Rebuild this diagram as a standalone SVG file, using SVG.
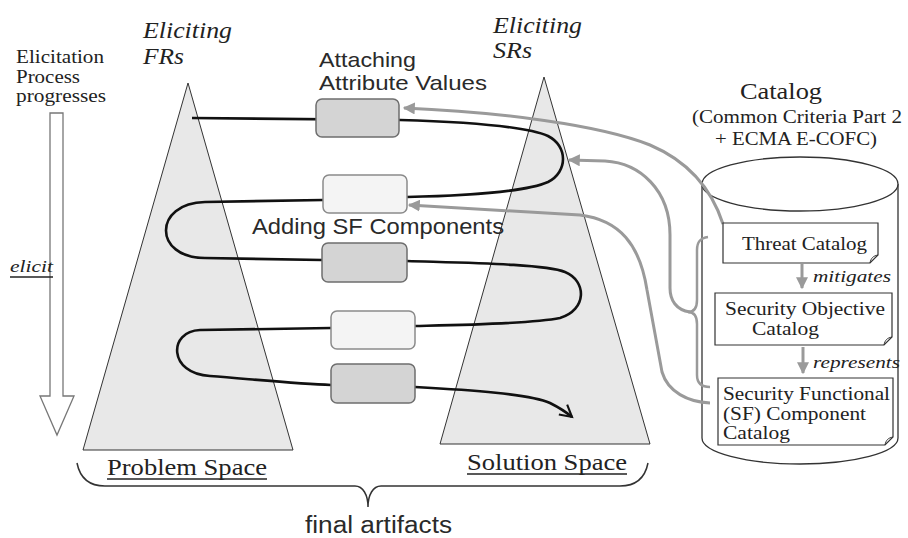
<svg xmlns="http://www.w3.org/2000/svg" width="908" height="538" viewBox="0 0 908 538">
<defs>
<style>
.serif{font-family:"Liberation Serif","Times New Roman",serif;fill:#222}
.sans{font-family:"Liberation Sans",Arial,sans-serif;fill:#2a2a2a}
.it{font-style:italic}
.tri{fill:#e8e8e8;stroke:#333;stroke-width:1}
.dark{fill:#d4d4d4;stroke:#6e6e6e;stroke-width:1.5}
.light{fill:#f4f4f4;stroke:#8a8a8a;stroke-width:1.5}
.gray{fill:none;stroke:#9a9a9a;stroke-width:3}
.doc{fill:#fff;stroke:#333;stroke-width:1.2}
.ul{stroke:#222;stroke-width:1.3}
</style>
<marker id="ga" viewBox="0 0 10 10" refX="9" refY="5" markerWidth="4" markerHeight="4" orient="auto" markerUnits="strokeWidth">
<path d="M0,0 L10,5 L0,10 Z" fill="#9a9a9a"/>
</marker>
<marker id="ba" viewBox="0 0 12 12" refX="10" refY="6" markerWidth="6" markerHeight="6" orient="auto" markerUnits="strokeWidth">
<path d="M1,1 L10,6 L1,11" fill="none" stroke="#111" stroke-width="1.6"/>
</marker>
</defs>
<rect width="908" height="538" fill="#fff"/>

<g id="progress-arrow">
<path d="M50,113 H63 V396 H74 L57,435 L40,396 H50 Z" fill="#fff" stroke="#777" stroke-width="1.3"/>
<text class="serif" x="16" y="63" font-size="19" textLength="88" lengthAdjust="spacingAndGlyphs">Elicitation</text>
<text class="serif" x="16" y="83" font-size="19" textLength="64" lengthAdjust="spacingAndGlyphs">Process</text>
<text class="serif" x="16" y="102" font-size="19" textLength="90" lengthAdjust="spacingAndGlyphs">progresses</text>
<text class="serif it" x="10" y="272" font-size="17" textLength="43" lengthAdjust="spacingAndGlyphs">elicit</text>
<line class="ul" x1="10" y1="277" x2="53" y2="277"/>
</g>

<g id="problem-space">
<polygon class="tri" points="188,83 293,450 83,450"/>
<text class="serif it" x="143" y="38" font-size="23" textLength="89" lengthAdjust="spacingAndGlyphs">Eliciting</text>
<text class="serif it" x="143" y="64" font-size="23" textLength="41" lengthAdjust="spacingAndGlyphs">FRs</text>
<text class="serif" x="107" y="475" font-size="24" textLength="160" lengthAdjust="spacingAndGlyphs">Problem Space</text>
<line class="ul" x1="107" y1="479" x2="267" y2="479"/>
</g>

<g id="solution-space">
<polygon class="tri" points="544,77 650,444 440,444"/>
<text class="serif it" x="493" y="33" font-size="23" textLength="89" lengthAdjust="spacingAndGlyphs">Eliciting</text>
<text class="serif it" x="493" y="58" font-size="23" textLength="39" lengthAdjust="spacingAndGlyphs">SRs</text>
<text class="serif" x="467" y="470" font-size="24" textLength="160" lengthAdjust="spacingAndGlyphs">Solution Space</text>
<line class="ul" x1="467" y1="474" x2="627" y2="474"/>
</g>

<g id="catalog">
<path d="M702,184 V438 A98,26 0 0 0 898,438 V184" fill="#fff" stroke="#333" stroke-width="1.3"/>
<ellipse cx="800" cy="184" rx="98" ry="27" fill="#fff" stroke="#333" stroke-width="1.3"/>
<text class="serif" x="740" y="99" font-size="23" textLength="82" lengthAdjust="spacingAndGlyphs">Catalog</text>
<text class="serif" x="692" y="123" font-size="18" textLength="210" lengthAdjust="spacingAndGlyphs">(Common Criteria Part 2</text>
<text class="serif" x="715" y="145" font-size="18" textLength="162" lengthAdjust="spacingAndGlyphs">+ ECMA E-COFC)</text>
</g>

<g id="connectors">
<path d="M192,118 L400,120 C470,122 525,126 548,136 C568,146 568,172 548,182 C525,192 460,196 407,197 L323,200 L205,202 C153,203 153,258 205,258 L322,260 L407,261 C470,263 545,264 565,272 C587,281 587,310 560,318 C530,324 460,325 415,326 L331,328 L200,330 C168,331 168,374 210,376 C260,380 300,384 331,385 L415,387 C470,390 530,394 550,403 C560,408 566,412 572,417" fill="none" stroke="#111" stroke-width="2.6" marker-end="url(#ba)"/>
<path class="gray" d="M723,224 C712,190 690,162 650,145 C600,125 500,112 404,108" marker-end="url(#ga)"/>
<path class="gray" d="M690,312 C676,310 670,300 670,288 L670,235 C670,190 640,163 605,161 L569,160" marker-end="url(#ga)"/>
<path class="gray" d="M710,403 C688,402 668,392 662,372 L647,290 C640,245 620,220 580,215 L409,205" marker-end="url(#ga)"/>
<path fill="none" stroke="#9a9a9a" stroke-width="2.5" d="M708,237 C700,238 697,242 697,250 L697,300 C697,308 694,312 688,312 C694,312 697,316 697,324 L697,375 C697,383 702,387 710,387"/>
<path class="gray" d="M802,264 V288" marker-end="url(#ga)"/>
<path class="gray" d="M803,347 V373" marker-end="url(#ga)"/>
<path fill="none" stroke="#333" stroke-width="1.5" d="M77,463 C80,478 90,486 105,486 L355,486 C363,486 368,495 368,507 C368,495 373,486 381,486 L620,486 C635,486 645,478 648,463"/>
</g>

<g id="box-attach">
<rect class="dark" x="316" y="99" width="83" height="38" rx="6"/>
<text class="sans" x="319" y="67" font-size="21" textLength="97" lengthAdjust="spacingAndGlyphs">Attaching</text>
<text class="sans" x="319" y="90" font-size="21" textLength="168" lengthAdjust="spacingAndGlyphs">Attribute Values</text>
</g>
<g id="box-add">
<rect class="light" x="323" y="175" width="84" height="38" rx="6"/>
<text class="sans" x="252" y="234" font-size="22" textLength="252" lengthAdjust="spacingAndGlyphs">Adding SF Components</text>
</g>
<g id="box-3"><rect class="dark" x="322" y="243" width="85" height="39" rx="6"/></g>
<g id="box-4"><rect class="light" x="331" y="311" width="84" height="38" rx="6"/></g>
<g id="box-5"><rect class="dark" x="331" y="364" width="84" height="39" rx="6"/></g>

<g id="threat-catalog">
<path class="doc" d="M723,223 H878 V255 L870,263 H723 Z"/>
<path fill="none" stroke="#333" stroke-width="1" d="M870,263 C871,258 873,256 878,255"/>
<text class="serif" x="742" y="250" font-size="18" textLength="125" lengthAdjust="spacingAndGlyphs">Threat Catalog</text>
</g>
<g id="security-objective-catalog">
<path class="doc" d="M715,293 H892 V337 L884,345 H715 Z"/>
<path fill="none" stroke="#333" stroke-width="1" d="M884,345 C885,340 887,338 892,337"/>
<text class="serif" x="725" y="315" font-size="18" textLength="160" lengthAdjust="spacingAndGlyphs">Security Objective</text>
<text class="serif" x="752" y="335" font-size="18" textLength="67" lengthAdjust="spacingAndGlyphs">Catalog</text>
<text class="serif it" x="813" y="282" font-size="17" textLength="78" lengthAdjust="spacingAndGlyphs">mitigates</text>
<text class="serif it" x="813" y="368" font-size="17" textLength="87" lengthAdjust="spacingAndGlyphs">represents</text>
</g>
<g id="sf-component-catalog">
<path class="doc" d="M718,378 H893 V437 L885,445 H718 Z"/>
<path fill="none" stroke="#333" stroke-width="1" d="M885,445 C886,440 888,438 893,437"/>
<text class="serif" x="723" y="400" font-size="18" textLength="167" lengthAdjust="spacingAndGlyphs">Security Functional</text>
<text class="serif" x="723" y="420" font-size="18" textLength="143" lengthAdjust="spacingAndGlyphs">(SF) Component</text>
<text class="serif" x="723" y="439" font-size="18" textLength="67" lengthAdjust="spacingAndGlyphs">Catalog</text>
</g>

<g id="final-artifacts">
<text class="sans" x="305" y="533" font-size="23" textLength="147" lengthAdjust="spacingAndGlyphs">final artifacts</text>
</g>
</svg>
